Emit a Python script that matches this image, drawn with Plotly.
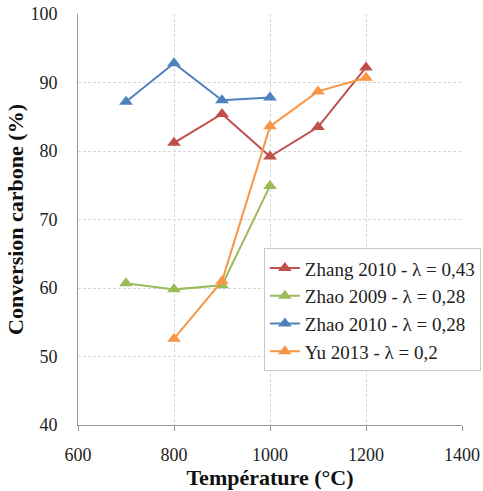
import plotly.graph_objects as go

temps_zhang2010 = [800, 900, 1000, 1100, 1200]
conv_zhang2010 = [81.2, 85.4, 79.2, 83.5, 92.2]
temps_zhao2009 = [700, 800, 900, 1000]
conv_zhao2009 = [60.7, 59.8, 60.4, 74.9]
temps_zhao2010 = [700, 800, 900, 1000]
conv_zhao2010 = [87.2, 92.8, 87.4, 87.8]
temps_yu2013 = [800, 900, 1000, 1100, 1200]
conv_yu2013 = [52.6, 61.0, 83.6, 88.7, 90.7]

names = ["Zhang 2010 - λ = 0,43", "Zhao 2009 - λ = 0,28", "Zhao 2010 - λ = 0,28", "Yu 2013 - λ = 0,2"]
colors = ["#C0504D", "#9BBB59", "#4F81BD", "#F79646"]
xs = [temps_zhang2010, temps_zhao2009, temps_zhao2010, temps_yu2013]
ys = [conv_zhang2010, conv_zhao2009, conv_zhao2010, conv_yu2013]

fig = go.Figure()
for i, (n, c, x, y) in enumerate(zip(names, colors, xs, ys)):
    fig.add_trace(go.Scatter(x=x, y=y, name=n, mode="lines+markers", legendgroup=f"g{i}",
                             line=dict(color=c, width=2),
                             marker=dict(symbol="triangle-up", size=12, color=c)))

font_serif = "Liberation Serif"
grid_col = "#D6D6D6"
fig.update_layout(
    width=483, height=491,
    margin=dict(l=78, r=21, t=14, b=66, autoexpand=False),
    paper_bgcolor="white", plot_bgcolor="white",
    font=dict(family=font_serif, size=18, color="#222"),
    showlegend=True,
    legend=dict(x=0.484, y=0.43, xanchor="left", yanchor="top",
                bgcolor="white", bordercolor="#C8C8C8", borderwidth=1,
                font=dict(size=19, family=font_serif, color="#222"),
                tracegroupgap=0, itemwidth=30),
    xaxis=dict(range=[600, 1400], dtick=200, showgrid=True, automargin=False,
               gridcolor=grid_col, griddash="3px,2px", gridwidth=1,
               showline=True, linecolor="#999", linewidth=1,
               ticks="outside", ticklen=5, tickcolor="#999",
               ticklabelstandoff=8,
               tickfont=dict(size=18, family=font_serif, color="#222"),
               zeroline=False,
               title=dict(text="<b>Température (°C)</b>", font=dict(size=22, family=font_serif, color="#111"), standoff=6)),
    yaxis=dict(range=[40, 100], dtick=10, showgrid=True, automargin=False,
               gridcolor=grid_col, griddash="3px,2px", gridwidth=1,
               showline=True, linecolor="#999", linewidth=1,
               ticks="outside", ticklen=16, tickcolor="rgba(0,0,0,0)",
               tickfont=dict(size=18, family=font_serif, color="#222"),
               zeroline=False,
               title=dict(text="<b>Conversion carbone (%)</b>", font=dict(size=22, family=font_serif, color="#111"), standoff=0)),
)
fig.write_html("out.html", config={"displayModeBar": False},
               post_script="document.body.style.margin='0';")
